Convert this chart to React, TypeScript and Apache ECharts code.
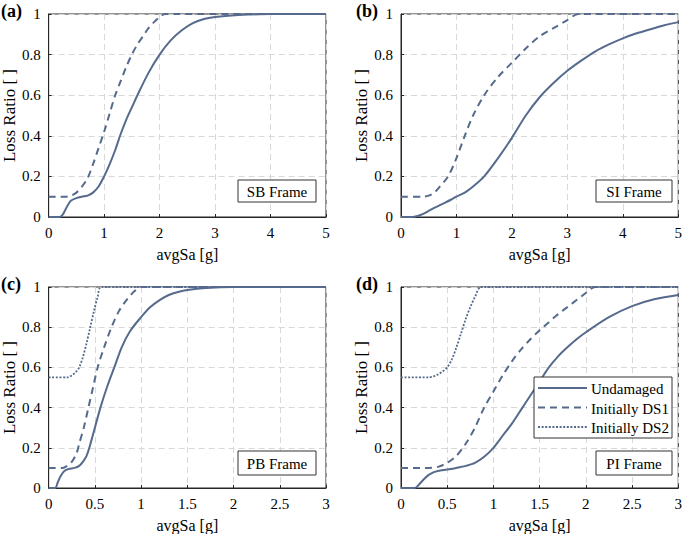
import React, { useEffect, useRef } from "react";
import * as echarts from "echarts";

const COLOR = "#556a8c";
const FONT = "Liberation Serif";

// Panel (a) SB Frame
const sbUndamaged: number[][] = [[0,0],[0.2,0],[0.25,0.01],[0.3,0.035],[0.35,0.06],[0.4,0.08],[0.5,0.093],[0.6,0.1],[0.7,0.105],[0.8,0.12],[0.9,0.15],[1.0,0.2],[1.1,0.26],[1.2,0.33],[1.3,0.41],[1.4,0.48],[1.5,0.54],[1.6,0.6],[1.8,0.71],[2.0,0.8],[2.2,0.87],[2.4,0.92],[2.6,0.955],[2.8,0.975],[3.0,0.985],[3.3,0.993],[3.6,0.997],[4,1],[5,1]];
const sbDS1: number[][] = [[0,0.1],[0.3,0.1],[0.4,0.105],[0.5,0.12],[0.6,0.15],[0.7,0.19],[0.8,0.26],[0.9,0.34],[1.0,0.42],[1.1,0.51],[1.2,0.6],[1.3,0.67],[1.4,0.74],[1.5,0.8],[1.6,0.85],[1.7,0.89],[1.8,0.93],[1.9,0.96],[2.0,0.985],[2.1,1],[5,1]];

// Panel (b) SI Frame
const siUndamaged: number[][] = [[0,0],[0.2,0],[0.3,0.005],[0.4,0.015],[0.5,0.03],[0.6,0.045],[0.75,0.065],[0.9,0.085],[1.0,0.1],[1.15,0.12],[1.3,0.15],[1.5,0.2],[1.75,0.29],[2.0,0.39],[2.25,0.5],[2.5,0.59],[2.75,0.66],[3.0,0.72],[3.25,0.77],[3.5,0.815],[3.75,0.85],[4.0,0.88],[4.25,0.905],[4.5,0.925],[4.75,0.945],[5,0.96]];
const siDS1: number[][] = [[0,0.1],[0.4,0.1],[0.5,0.105],[0.6,0.12],[0.7,0.15],[0.85,0.2],[1.0,0.29],[1.15,0.4],[1.3,0.5],[1.5,0.6],[1.75,0.69],[2.0,0.76],[2.25,0.83],[2.5,0.89],[2.75,0.93],[3.0,0.97],[3.2,1],[5,1]];

// Panel (c) PB Frame
const pbUndamaged: number[][] = [[0,0],[0.07,0],[0.1,0.03],[0.13,0.06],[0.17,0.085],[0.22,0.095],[0.28,0.1],[0.33,0.11],[0.37,0.13],[0.41,0.16],[0.44,0.2],[0.5,0.3],[0.56,0.4],[0.63,0.5],[0.71,0.6],[0.79,0.7],[0.88,0.78],[1.0,0.85],[1.1,0.9],[1.2,0.935],[1.3,0.96],[1.4,0.975],[1.5,0.985],[1.7,0.995],[2.0,1],[3,1]];
const pbDS1: number[][] = [[0,0.1],[0.15,0.1],[0.2,0.11],[0.25,0.13],[0.3,0.17],[0.33,0.22],[0.38,0.3],[0.43,0.4],[0.48,0.5],[0.53,0.6],[0.6,0.7],[0.68,0.8],[0.76,0.88],[0.85,0.94],[0.93,0.98],[1.0,1],[3,1]];
const pbDS2: number[][] = [[0,0.55],[0.2,0.55],[0.25,0.56],[0.3,0.58],[0.33,0.6],[0.37,0.65],[0.41,0.72],[0.45,0.8],[0.49,0.88],[0.53,0.95],[0.57,1],[3,1]];

// Panel (d) PI Frame
const piUndamaged: number[][] = [[0,0],[0.15,0],[0.2,0.02],[0.25,0.045],[0.3,0.065],[0.35,0.078],[0.4,0.085],[0.5,0.092],[0.6,0.1],[0.7,0.11],[0.8,0.125],[0.9,0.155],[1.0,0.2],[1.1,0.26],[1.2,0.32],[1.3,0.39],[1.4,0.46],[1.5,0.53],[1.6,0.6],[1.7,0.655],[1.8,0.7],[1.9,0.74],[2.0,0.775],[2.25,0.85],[2.5,0.905],[2.75,0.94],[3,0.96]];
const piDS1: number[][] = [[0,0.1],[0.3,0.1],[0.4,0.105],[0.5,0.125],[0.6,0.16],[0.7,0.22],[0.8,0.3],[0.9,0.4],[1.0,0.48],[1.1,0.56],[1.2,0.63],[1.3,0.69],[1.4,0.74],[1.5,0.785],[1.6,0.825],[1.7,0.865],[1.8,0.9],[1.9,0.935],[2.0,0.97],[2.1,1],[3,1]];
const piDS2: number[][] = [[0,0.55],[0.3,0.55],[0.35,0.555],[0.4,0.565],[0.45,0.58],[0.5,0.6],[0.55,0.64],[0.6,0.7],[0.65,0.77],[0.7,0.84],[0.75,0.9],[0.8,0.95],[0.87,1],[3,1]];

const seriesNames = ["Undamaged", "Initially DS1", "Initially DS2"];
const panelLabels = ["(a)", "(b)", "(c)", "(d)"];
const frameLabels = ["SB Frame", "SI Frame", "PB Frame", "PI Frame"];
const xMaxes = [5, 5, 3, 3];
const xIntervals = [1, 1, 0.5, 0.5];
const xTitle = "avgSa [g]";
const yTitle = "Loss Ratio [ ]";

const grids = [
  { left: 46, top: 14, width: 280, height: 203 },
  { left: 401, top: 14, width: 281, height: 203 },
  { left: 46, top: 287, width: 280, height: 203 },
  { left: 401, top: 287, width: 281, height: 203 },
];

const lineTypes: any[] = ["solid", [7, 5], [2, 1.6]];

export default function App() {
  const ref = useRef<HTMLDivElement>(null);
  useEffect(() => {
    if (!ref.current) return;
    const chart = echarts.init(ref.current, undefined, { renderer: "svg" });
    const panelData = [
      [sbUndamaged, sbDS1],
      [siUndamaged, siDS1],
      [pbUndamaged, pbDS1, pbDS2],
      [piUndamaged, piDS1, piDS2],
    ];
    const series: any[] = [];
    panelData.forEach((arrs, gi) => {
      arrs.forEach((d, si) => {
        series.push({
          type: "line",
          name: seriesNames[si],
          xAxisIndex: gi,
          yAxisIndex: gi,
          data: d,
          symbol: "none",
          showSymbol: false,
          smooth: 0.3,
          lineStyle: { color: COLOR, width: si === 2 ? 1.8 : 2, type: lineTypes[si] },
          itemStyle: { color: COLOR },
          z: 3,
        });
      });
    });
    const axisLabel = { fontFamily: FONT, fontSize: 15, color: "#000", margin: 8 };
    const splitLine = { show: true, lineStyle: { color: "#d8d8d8", type: [6, 4], width: 1 } };
    const graphic: any[] = [];
    grids.forEach((g, i) => {
      graphic.push({
        type: "text",
        x: g.left - 45,
        y: g.top - 12,
        style: { text: panelLabels[i], font: `bold 18px ${FONT}`, fill: "#000" },
      });
      const bx = g.left + (i % 2 === 0 ? 192 : 195);
      const by = g.top + (i < 2 ? 166 : 164);
      const bw = i % 2 === 0 ? 78 : 76;
      const bh = i < 2 ? 22 : 24;
      graphic.push({
        type: "rect",
        shape: { x: bx, y: by, width: bw, height: bh },
        style: { fill: "#fff", stroke: "#333", lineWidth: 1 },
        z: 10,
      });
      graphic.push({
        type: "text",
        x: bx + bw / 2,
        y: by + bh / 2 + 1,
        style: { text: frameLabels[i], font: `15px ${FONT}`, fill: "#000", align: "center", verticalAlign: "middle" },
        z: 11,
      });
    });
    // legend box in panel (d)
    const lx = 534, ly = 377, lw = 138, lh = 61;
    graphic.push({
      type: "rect",
      shape: { x: lx, y: ly, width: lw, height: lh },
      style: { fill: "#fff", stroke: "#333", lineWidth: 1 },
      z: 10,
    });
    seriesNames.forEach((n, k) => {
      const cy = ly + 11 + k * 19.5;
      graphic.push({
        type: "line",
        shape: { x1: lx + 4, y1: cy, x2: lx + 53, y2: cy },
        style: { stroke: COLOR, lineWidth: k === 2 ? 1.8 : 2, lineDash: k === 0 ? null : lineTypes[k] },
        z: 11,
      });
      graphic.push({
        type: "text",
        x: lx + 57,
        y: cy + 1,
        style: { text: n, font: `15px ${FONT}`, fill: "#000", verticalAlign: "middle" },
        z: 11,
      });
    });
    chart.setOption({
      animation: false,
      backgroundColor: "#fff",
      grid: grids.map((g) => ({ ...g, show: true, borderColor: "#262626", borderWidth: 1, backgroundColor: "transparent" })),
      xAxis: grids.map((g, i) => ({
        type: "value",
        gridIndex: i,
        min: 0,
        max: xMaxes[i],
        interval: xIntervals[i],
        name: xTitle,
        nameLocation: "middle",
        nameGap: 29,
        nameTextStyle: { fontFamily: FONT, fontSize: 16, color: "#000" },
        axisLine: { show: true, lineStyle: { color: "#262626" } },
        axisTick: { show: true, inside: true, length: 3, lineStyle: { color: "#262626" } },
        axisLabel,
        splitLine,
      })),
      yAxis: grids.map((g, i) => ({
        type: "value",
        gridIndex: i,
        min: 0,
        max: 1,
        interval: 0.2,
        name: yTitle,
        nameLocation: "middle",
        nameGap: 30,
        nameTextStyle: { fontFamily: FONT, fontSize: 17, color: "#000" },
        axisLine: { show: true, lineStyle: { color: "#262626" } },
        axisTick: { show: true, inside: true, length: 3, lineStyle: { color: "#262626" } },
        axisLabel,
        splitLine,
      })),
      series,
      graphic,
    });
    return () => chart.dispose();
  }, []);
  return <div ref={ref} style={{ position: "fixed", left: 0, top: 0, width: 685, height: 534 }} />;
}
